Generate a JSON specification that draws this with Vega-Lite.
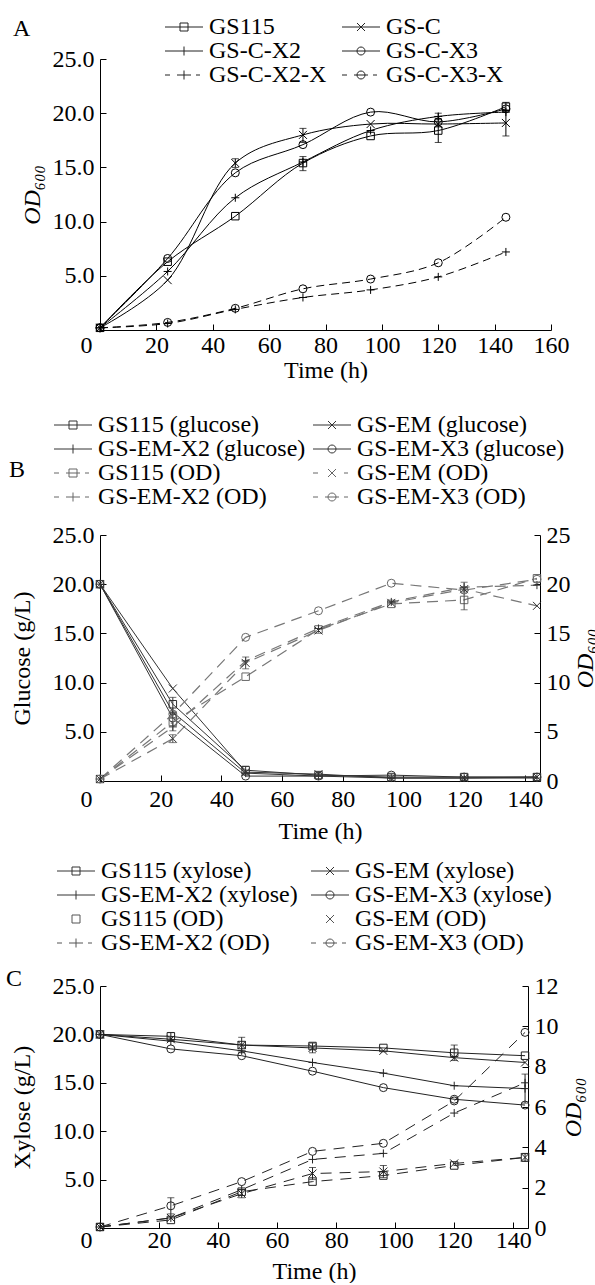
{
  "$schema": "https://vega.github.io/schema/vega-lite/v6.json",
  "padding": {"left": 6, "top": 15, "right": 0, "bottom": 0},
  "spacing": 14,
  "resolve": {"scale": {"shape": "independent", "stroke": "independent"}},
  "config": {
    "font": "Liberation Serif",
    "view": {"stroke": null},
    "axis": {
      "labelFont": "Liberation Serif", "titleFont": "Liberation Serif",
      "labelFontSize": 24, "titleFontSize": 24, "titleFontWeight": "normal",
      "labelColor": "black", "titleColor": "black", "domainColor": "black", "tickColor": "black",
      "grid": false, "tickSize": -6, "labelPadding": 12, "domainWidth": 1, "tickWidth": 1,
      "labelFlush": false, "labelOverlap": false
    },
    "legend": {"labelFont": "Liberation Serif", "labelFontSize": 24, "labelColor": "black",
      "columns": 2, "direction": "horizontal", "symbolSize": 400, "symbolStrokeWidth": 1,
      "labelOffset": 22, "rowPadding": -0.5, "labelLimit": 400},
    "title": {"font": "Liberation Serif", "fontSize": 24, "fontWeight": "normal", "anchor": "start", "frame": "group", "color": "black", "offset": 0}
  },
  "datasets": {
    "A": [
      {"s":"GS115","t":0,"v":0.2},{"s":"GS115","t":24,"v":6.3},{"s":"GS115","t":48,"v":10.5},
      {"s":"GS115","t":72,"v":15.4,"lo":14.7,"hi":16.0},{"s":"GS115","t":96,"v":17.9},
      {"s":"GS115","t":120,"v":18.4,"lo":17.3,"hi":19.5},{"s":"GS115","t":144,"v":20.6,"lo":20.2,"hi":21.0},
      {"s":"GS-C","t":0,"v":0.2},{"s":"GS-C","t":24,"v":4.6},{"s":"GS-C","t":48,"v":15.4,"lo":15.0,"hi":15.8},
      {"s":"GS-C","t":72,"v":18.0,"lo":17.3,"hi":18.6},{"s":"GS-C","t":96,"v":19.0},{"s":"GS-C","t":120,"v":19.0},
      {"s":"GS-C","t":144,"v":19.1,"lo":17.9,"hi":20.3},
      {"s":"GS-C-X2","t":0,"v":0.2},{"s":"GS-C-X2","t":24,"v":5.4},{"s":"GS-C-X2","t":48,"v":12.2},
      {"s":"GS-C-X2","t":72,"v":15.5},{"s":"GS-C-X2","t":96,"v":18.4},{"s":"GS-C-X2","t":120,"v":19.7,"lo":19.4,"hi":20.0},
      {"s":"GS-C-X2","t":144,"v":20.1},
      {"s":"GS-C-X3","t":0,"v":0.2},{"s":"GS-C-X3","t":24,"v":6.6},{"s":"GS-C-X3","t":48,"v":14.5},
      {"s":"GS-C-X3","t":72,"v":17.1},{"s":"GS-C-X3","t":96,"v":20.1},{"s":"GS-C-X3","t":120,"v":19.2},
      {"s":"GS-C-X3","t":144,"v":20.4},
      {"s":"GS-C-X2-X","t":0,"v":0.2},{"s":"GS-C-X2-X","t":24,"v":0.6},{"s":"GS-C-X2-X","t":48,"v":1.9},
      {"s":"GS-C-X2-X","t":72,"v":3.0},{"s":"GS-C-X2-X","t":96,"v":3.7},{"s":"GS-C-X2-X","t":120,"v":4.9},
      {"s":"GS-C-X2-X","t":144,"v":7.2},
      {"s":"GS-C-X3-X","t":0,"v":0.2},{"s":"GS-C-X3-X","t":24,"v":0.7},{"s":"GS-C-X3-X","t":48,"v":2.0},
      {"s":"GS-C-X3-X","t":72,"v":3.8},{"s":"GS-C-X3-X","t":96,"v":4.7},{"s":"GS-C-X3-X","t":120,"v":6.2},
      {"s":"GS-C-X3-X","t":144,"v":10.4}
    ],
    "B": [
      {"s":"GS115 (glucose)","t":0,"v":20.0},{"s":"GS115 (glucose)","t":24,"v":7.8,"lo":6.9,"hi":8.5},
      {"s":"GS115 (glucose)","t":48,"v":1.1,"lo":0.6,"hi":1.5},{"s":"GS115 (glucose)","t":72,"v":0.6},
      {"s":"GS115 (glucose)","t":96,"v":0.4},{"s":"GS115 (glucose)","t":120,"v":0.4},{"s":"GS115 (glucose)","t":144,"v":0.4},
      {"s":"GS-EM (glucose)","t":0,"v":20.0},{"s":"GS-EM (glucose)","t":24,"v":9.4},{"s":"GS-EM (glucose)","t":48,"v":0.9},
      {"s":"GS-EM (glucose)","t":72,"v":0.7},{"s":"GS-EM (glucose)","t":96,"v":0.3},{"s":"GS-EM (glucose)","t":120,"v":0.3},
      {"s":"GS-EM (glucose)","t":144,"v":0.4},
      {"s":"GS-EM-X2 (glucose)","t":0,"v":20.0},{"s":"GS-EM-X2 (glucose)","t":24,"v":7.0},{"s":"GS-EM-X2 (glucose)","t":48,"v":0.8},
      {"s":"GS-EM-X2 (glucose)","t":72,"v":0.5},{"s":"GS-EM-X2 (glucose)","t":96,"v":0.3},{"s":"GS-EM-X2 (glucose)","t":120,"v":0.3},
      {"s":"GS-EM-X2 (glucose)","t":144,"v":0.3},
      {"s":"GS-EM-X3 (glucose)","t":0,"v":20.0},{"s":"GS-EM-X3 (glucose)","t":24,"v":6.4},{"s":"GS-EM-X3 (glucose)","t":48,"v":0.5},
      {"s":"GS-EM-X3 (glucose)","t":72,"v":0.5},{"s":"GS-EM-X3 (glucose)","t":96,"v":0.6},{"s":"GS-EM-X3 (glucose)","t":120,"v":0.4},
      {"s":"GS-EM-X3 (glucose)","t":144,"v":0.4},
      {"s":"GS115 (OD)","t":0,"v":0.2},{"s":"GS115 (OD)","t":24,"v":6.0,"lo":5.1,"hi":6.9},{"s":"GS115 (OD)","t":48,"v":10.6},
      {"s":"GS115 (OD)","t":72,"v":15.4},{"s":"GS115 (OD)","t":96,"v":18.0},{"s":"GS115 (OD)","t":120,"v":18.4,"lo":17.4,"hi":19.6},
      {"s":"GS115 (OD)","t":144,"v":20.6},
      {"s":"GS-EM (OD)","t":0,"v":0.2},{"s":"GS-EM (OD)","t":24,"v":4.3,"lo":3.9,"hi":4.7},{"s":"GS-EM (OD)","t":48,"v":12.0,"lo":11.4,"hi":12.6},
      {"s":"GS-EM (OD)","t":72,"v":15.3},{"s":"GS-EM (OD)","t":96,"v":18.1},{"s":"GS-EM (OD)","t":120,"v":19.5},
      {"s":"GS-EM (OD)","t":144,"v":17.8},
      {"s":"GS-EM-X2 (OD)","t":0,"v":0.2},{"s":"GS-EM-X2 (OD)","t":24,"v":5.5},{"s":"GS-EM-X2 (OD)","t":48,"v":12.2},
      {"s":"GS-EM-X2 (OD)","t":72,"v":15.5},{"s":"GS-EM-X2 (OD)","t":96,"v":18.2},{"s":"GS-EM-X2 (OD)","t":120,"v":19.7,"lo":19.2,"hi":20.2},
      {"s":"GS-EM-X2 (OD)","t":144,"v":19.9},
      {"s":"GS-EM-X3 (OD)","t":0,"v":0.2},{"s":"GS-EM-X3 (OD)","t":24,"v":6.8},{"s":"GS-EM-X3 (OD)","t":48,"v":14.6},
      {"s":"GS-EM-X3 (OD)","t":72,"v":17.3},{"s":"GS-EM-X3 (OD)","t":96,"v":20.1},{"s":"GS-EM-X3 (OD)","t":120,"v":19.4},
      {"s":"GS-EM-X3 (OD)","t":144,"v":20.5}
    ],
    "C": [
      {"s":"GS115 (xylose)","t":0,"v":20.0},{"s":"GS115 (xylose)","t":24,"v":19.8,"lo":19.4,"hi":20.2},{"s":"GS115 (xylose)","t":48,"v":18.9},
      {"s":"GS115 (xylose)","t":72,"v":18.8},{"s":"GS115 (xylose)","t":96,"v":18.6},{"s":"GS115 (xylose)","t":120,"v":18.1,"lo":17.3,"hi":18.9},
      {"s":"GS115 (xylose)","t":144,"v":17.8},
      {"s":"GS-EM (xylose)","t":0,"v":20.0},{"s":"GS-EM (xylose)","t":24,"v":19.5},{"s":"GS-EM (xylose)","t":48,"v":18.9,"lo":18.1,"hi":19.7},
      {"s":"GS-EM (xylose)","t":72,"v":18.6,"lo":18.1,"hi":19.1},{"s":"GS-EM (xylose)","t":96,"v":18.3},{"s":"GS-EM (xylose)","t":120,"v":17.6},
      {"s":"GS-EM (xylose)","t":144,"v":17.1},
      {"s":"GS-EM-X2 (xylose)","t":0,"v":20.0},{"s":"GS-EM-X2 (xylose)","t":24,"v":19.3},{"s":"GS-EM-X2 (xylose)","t":48,"v":18.3},
      {"s":"GS-EM-X2 (xylose)","t":72,"v":17.1},{"s":"GS-EM-X2 (xylose)","t":96,"v":16.0},{"s":"GS-EM-X2 (xylose)","t":120,"v":14.7},
      {"s":"GS-EM-X2 (xylose)","t":144,"v":14.4,"lo":12.9,"hi":15.9},
      {"s":"GS-EM-X3 (xylose)","t":0,"v":20.0},{"s":"GS-EM-X3 (xylose)","t":24,"v":18.5},{"s":"GS-EM-X3 (xylose)","t":48,"v":17.8},
      {"s":"GS-EM-X3 (xylose)","t":72,"v":16.2},{"s":"GS-EM-X3 (xylose)","t":96,"v":14.5},{"s":"GS-EM-X3 (xylose)","t":120,"v":13.3},
      {"s":"GS-EM-X3 (xylose)","t":144,"v":12.7},
      {"s":"GS115 (OD)","t":0,"v":0.05},{"s":"GS115 (OD)","t":24,"v":0.4},{"s":"GS115 (OD)","t":48,"v":1.8},
      {"s":"GS115 (OD)","t":72,"v":2.3},{"s":"GS115 (OD)","t":96,"v":2.6},{"s":"GS115 (OD)","t":120,"v":3.1},
      {"s":"GS115 (OD)","t":144,"v":3.5,"lo":3.3,"hi":3.7},
      {"s":"GS-EM (OD)","t":0,"v":0.05},{"s":"GS-EM (OD)","t":24,"v":0.5},{"s":"GS-EM (OD)","t":48,"v":1.7,"lo":1.5,"hi":1.9},
      {"s":"GS-EM (OD)","t":72,"v":2.7,"lo":2.4,"hi":3.0},{"s":"GS-EM (OD)","t":96,"v":2.8,"lo":2.5,"hi":3.1},{"s":"GS-EM (OD)","t":120,"v":3.2},
      {"s":"GS-EM (OD)","t":144,"v":3.5},
      {"s":"GS-EM-X2 (OD)","t":0,"v":0.05},{"s":"GS-EM-X2 (OD)","t":24,"v":0.5},{"s":"GS-EM-X2 (OD)","t":48,"v":1.9},
      {"s":"GS-EM-X2 (OD)","t":72,"v":3.4},{"s":"GS-EM-X2 (OD)","t":96,"v":3.7},{"s":"GS-EM-X2 (OD)","t":120,"v":5.7},
      {"s":"GS-EM-X2 (OD)","t":144,"v":7.2},
      {"s":"GS-EM-X3 (OD)","t":0,"v":0.05},{"s":"GS-EM-X3 (OD)","t":24,"v":1.1,"lo":0.7,"hi":1.5},{"s":"GS-EM-X3 (OD)","t":48,"v":2.3},
      {"s":"GS-EM-X3 (OD)","t":72,"v":3.8},{"s":"GS-EM-X3 (OD)","t":96,"v":4.2},{"s":"GS-EM-X3 (OD)","t":120,"v":6.3},
      {"s":"GS-EM-X3 (OD)","t":144,"v":9.7}
    ]
  },
  "vconcat": [
    {
      "width": 451, "height": 271,
      "title": {"text": "A", "dx": -87, "dy": 30},
      "data": {"name": "A"},
      "encoding": {
        "x": {"field": "t", "type": "quantitative", "scale": {"domain": [0,160], "nice": false},
          "axis": {"values": [0,20,40,60,80,100,120,140,160], "title": "Time (h)", "titlePadding": 1, "labelPadding": 9,
            "labelAlign": {"condition": {"test": "datum.value === 0", "value": "right"}, "value": "center"},
            "labelOffset": {"condition": {"test": "datum.value === 0", "value": -8}, "value": 0}}},
        "y": {"field": "v", "type": "quantitative", "scale": {"domain": [0,25], "nice": false},
          "axis": {"values": [0,5,10,15,20,25], "labelExpr": "datum.value === 0 ? '' : format(datum.value, '.1f')",
            "title": "OD₆₀₀", "titleFontStyle": "italic", "titlePadding": 8}}
      },
      "layer": [
        {
          "transform": [{"filter": {"field": "s", "oneOf": ["GS115","GS-C","GS-C-X2","GS-C-X3"]}}],
          "mark": {"type": "line", "interpolate": "catmull-rom", "color": "black", "strokeWidth": 1},
          "encoding": {"detail": {"field": "s"}}
        },
        {
          "transform": [{"filter": {"field": "s", "oneOf": ["GS-C-X2-X","GS-C-X3-X"]}}],
          "mark": {"type": "line", "interpolate": "catmull-rom", "color": "black", "strokeWidth": 1, "strokeDash": [8,5]},
          "encoding": {"detail": {"field": "s"}}
        },
        {
          "transform": [{"filter": {"field": "s", "oneOf": ["GS115"]}}],
          "mark": {"type": "point", "shape": "square", "size": 56, "filled": false, "opacity": 1, "color": "black", "strokeWidth": 1}
        },
        {
          "transform": [{"filter": {"field": "s", "oneOf": ["GS-C"]}}],
          "mark": {"type": "point", "shape": "M-1,-1L1,1M-1,1L1,-1", "size": 64, "filled": false, "opacity": 1, "color": "black", "strokeWidth": 1}
        },
        {
          "transform": [{"filter": {"field": "s", "oneOf": ["GS-C-X2","GS-C-X2-X"]}}],
          "mark": {"type": "point", "shape": "M-1,0L1,0M0,-1L0,1", "size": 64, "filled": false, "opacity": 1, "color": "black", "strokeWidth": 1}
        },
        {
          "transform": [{"filter": {"field": "s", "oneOf": ["GS-C-X3","GS-C-X3-X"]}}],
          "mark": {"type": "point", "shape": "circle", "size": 64, "filled": false, "opacity": 1, "color": "black", "strokeWidth": 1}
        },
        {
          "transform": [{"filter": "isValid(datum.lo)"}],
          "mark": {"type": "rule", "color": "black", "strokeWidth": 1},
          "encoding": {
            "y": {"field": "lo", "type": "quantitative", "scale": {"domain": [0,25], "nice": false},
              "axis": {"values": [0,5,10,15,20,25], "labelExpr": "datum.value === 0 ? '' : format(datum.value, '.1f')",
                "title": "OD₆₀₀", "titleFontStyle": "italic", "titlePadding": 8}},
            "y2": {"field": "hi"}
          }
        },
        {
          "transform": [{"filter": "isValid(datum.lo)"}],
          "mark": {"type": "tick", "orient": "horizontal", "size": 7, "thickness": 1, "color": "black"},
          "encoding": {
            "y": {"field": "lo", "type": "quantitative", "scale": {"domain": [0,25], "nice": false},
              "axis": {"values": [0,5,10,15,20,25], "labelExpr": "datum.value === 0 ? '' : format(datum.value, '.1f')",
                "title": "OD₆₀₀", "titleFontStyle": "italic", "titlePadding": 8}}
          }
        },
        {
          "transform": [{"filter": "isValid(datum.hi)"}],
          "mark": {"type": "tick", "orient": "horizontal", "size": 7, "thickness": 1, "color": "black"},
          "encoding": {
            "y": {"field": "hi", "type": "quantitative", "scale": {"domain": [0,25], "nice": false},
              "axis": {"values": [0,5,10,15,20,25], "labelExpr": "datum.value === 0 ? '' : format(datum.value, '.1f')",
                "title": "OD₆₀₀", "titleFontStyle": "italic", "titlePadding": 8}}
          }
        },
        {
          "transform": [{"filter": "false"}],
          "mark": {"type": "point", "filled": false, "opacity": 1, "strokeWidth": 1},
          "encoding": {
            "shape": {"field": "s", "type": "nominal",
              "scale": {"domain": ["GS115","GS-C","GS-C-X2","GS-C-X3","GS-C-X2-X","GS-C-X3-X"],
                "range": [
                  "M-1,0H2.8M0.5,-0.4H1.3V0.4H0.5Z",
                  "M-1,0H2.8M0.5,-0.4L1.3,0.4M0.5,0.4L1.3,-0.4",
                  "M-1,0H2.8M0.9,-0.45V0.45",
                  "M-1,0H2.8M1.3,0A0.4,0.4,0,1,1,0.5,0A0.4,0.4,0,1,1,1.3,0",
                  "M-1,0H-0.5M0.2,0H1.6M0.9,-0.45V0.45M2.1,0H2.5",
                  "M-1,0H-0.5M0.2,0H1.6M1.3,0A0.4,0.4,0,1,1,0.5,0A0.4,0.4,0,1,1,1.3,0M2.1,0H2.5"
                ]},
              "legend": {"orient": "none", "legendX": 63, "legendY": -44, "title": null, "columnPadding": 13, "padding": 0}},
            "stroke": {"field": "s", "type": "nominal",
              "scale": {"domain": ["GS115","GS-C","GS-C-X2","GS-C-X3","GS-C-X2-X","GS-C-X3-X"],
                "range": ["#222","#222","#222","#222","#222","#222"]},
              "legend": {"orient": "none", "legendX": 63, "legendY": -44, "title": null, "columnPadding": 13, "padding": 0}}
          }
        }
      ]
    },
    {
      "width": 440, "height": 246,
      "title": {"text": "B", "dx": -91, "dy": 90},
      "data": {"name": "B"},
      "resolve": {"scale": {"y": "independent"}},
      "encoding": {
        "x": {"field": "t", "type": "quantitative", "scale": {"domain": [0,145], "nice": false},
          "axis": {"values": [0,20,40,60,80,100,120,140], "title": "Time (h)", "titlePadding": 8,
            "labelAlign": {"condition": {"test": "datum.value === 0", "value": "right"}, "value": "center"},
            "labelOffset": {"condition": {"test": "datum.value === 0", "value": -8}, "value": 0}}}
      },
      "layer": [
        {
          "encoding": {
            "y": {"field": "v", "type": "quantitative", "scale": {"domain": [0,25], "nice": false},
              "axis": {"values": [0,5,10,15,20,25], "labelExpr": "datum.value === 0 ? '' : format(datum.value, '.1f')",
                "title": "Glucose (g/L)", "titlePadding": 18}}
          },
          "layer": [
            {
              "transform": [{"filter": {"field": "s", "oneOf": ["GS115 (glucose)","GS-EM (glucose)","GS-EM-X2 (glucose)","GS-EM-X3 (glucose)"]}}],
              "mark": {"type": "line", "color": "#333", "strokeWidth": 1},
              "encoding": {"detail": {"field": "s"}}
            },
            {
              "transform": [{"filter": {"field": "s", "oneOf": ["GS115 (glucose)"]}}],
              "mark": {"type": "point", "shape": "square", "size": 56, "filled": false, "opacity": 1, "color": "#333", "strokeWidth": 1}
            },
            {
              "transform": [{"filter": {"field": "s", "oneOf": ["GS-EM (glucose)"]}}],
              "mark": {"type": "point", "shape": "M-1,-1L1,1M-1,1L1,-1", "size": 64, "filled": false, "opacity": 1, "color": "#333", "strokeWidth": 1}
            },
            {
              "transform": [{"filter": {"field": "s", "oneOf": ["GS-EM-X2 (glucose)"]}}],
              "mark": {"type": "point", "shape": "M-1,0L1,0M0,-1L0,1", "size": 64, "filled": false, "opacity": 1, "color": "#333", "strokeWidth": 1}
            },
            {
              "transform": [{"filter": {"field": "s", "oneOf": ["GS-EM-X3 (glucose)"]}}],
              "mark": {"type": "point", "shape": "circle", "size": 64, "filled": false, "opacity": 1, "color": "#333", "strokeWidth": 1}
            },
            {
              "transform": [{"filter": {"field": "s", "oneOf": ["GS115 (glucose)","GS-EM (glucose)","GS-EM-X2 (glucose)","GS-EM-X3 (glucose)"]}}, {"filter": "isValid(datum.lo)"}],
              "mark": {"type": "rule", "color": "#333", "strokeWidth": 1},
              "encoding": {
                "y": {"field": "lo", "type": "quantitative", "scale": {"domain": [0,25], "nice": false},
                  "axis": {"values": [0,5,10,15,20,25], "labelExpr": "datum.value === 0 ? '' : format(datum.value, '.1f')",
                    "title": "Glucose (g/L)", "titlePadding": 18}},
                "y2": {"field": "hi"}
              }
            },
            {
              "transform": [{"filter": {"field": "s", "oneOf": ["GS115 (glucose)","GS-EM (glucose)","GS-EM-X2 (glucose)","GS-EM-X3 (glucose)"]}}, {"filter": "isValid(datum.lo)"}],
              "mark": {"type": "tick", "orient": "horizontal", "size": 7, "thickness": 1, "color": "#333"},
              "encoding": {
                "y": {"field": "lo", "type": "quantitative", "scale": {"domain": [0,25], "nice": false},
                  "axis": {"values": [0,5,10,15,20,25], "labelExpr": "datum.value === 0 ? '' : format(datum.value, '.1f')",
                    "title": "Glucose (g/L)", "titlePadding": 18}}
              }
            },
            {
              "transform": [{"filter": {"field": "s", "oneOf": ["GS115 (glucose)","GS-EM (glucose)","GS-EM-X2 (glucose)","GS-EM-X3 (glucose)"]}}, {"filter": "isValid(datum.hi)"}],
              "mark": {"type": "tick", "orient": "horizontal", "size": 7, "thickness": 1, "color": "#333"},
              "encoding": {
                "y": {"field": "hi", "type": "quantitative", "scale": {"domain": [0,25], "nice": false},
                  "axis": {"values": [0,5,10,15,20,25], "labelExpr": "datum.value === 0 ? '' : format(datum.value, '.1f')",
                    "title": "Glucose (g/L)", "titlePadding": 18}}
              }
            }
          ]
        },
        {
          "encoding": {
            "y": {"field": "v", "type": "quantitative", "scale": {"domain": [0,25], "nice": false},
              "axis": {"orient": "right", "values": [0,5,10,15,20,25], "format": "d",
                "title": "OD₆₀₀", "titleFontStyle": "italic", "titleAngle": 270, "titleBaseline": "top", "titlePadding": 3}}
          },
          "layer": [
            {
              "transform": [{"filter": {"field": "s", "oneOf": ["GS115 (OD)","GS-EM (OD)","GS-EM-X2 (OD)","GS-EM-X3 (OD)"]}}],
              "mark": {"type": "line", "color": "#777", "strokeWidth": 1.2, "strokeDash": [11,7]},
              "encoding": {"detail": {"field": "s"}}
            },
            {
              "transform": [{"filter": {"field": "s", "oneOf": ["GS115 (OD)"]}}],
              "mark": {"type": "point", "shape": "square", "size": 56, "filled": false, "opacity": 1, "color": "#666", "strokeWidth": 1}
            },
            {
              "transform": [{"filter": {"field": "s", "oneOf": ["GS-EM (OD)"]}}],
              "mark": {"type": "point", "shape": "M-1,-1L1,1M-1,1L1,-1", "size": 64, "filled": false, "opacity": 1, "color": "#333", "strokeWidth": 1}
            },
            {
              "transform": [{"filter": {"field": "s", "oneOf": ["GS-EM-X2 (OD)"]}}],
              "mark": {"type": "point", "shape": "M-1,0L1,0M0,-1L0,1", "size": 64, "filled": false, "opacity": 1, "color": "#333", "strokeWidth": 1}
            },
            {
              "transform": [{"filter": {"field": "s", "oneOf": ["GS-EM-X3 (OD)"]}}],
              "mark": {"type": "point", "shape": "circle", "size": 64, "filled": false, "opacity": 1, "color": "#666", "strokeWidth": 1}
            },
            {
              "transform": [{"filter": {"field": "s", "oneOf": ["GS115 (OD)","GS-EM (OD)","GS-EM-X2 (OD)","GS-EM-X3 (OD)"]}}, {"filter": "isValid(datum.lo)"}],
              "mark": {"type": "rule", "color": "#444", "strokeWidth": 1},
              "encoding": {
                "y": {"field": "lo", "type": "quantitative", "scale": {"domain": [0,25], "nice": false},
                  "axis": {"orient": "right", "values": [0,5,10,15,20,25], "format": "d",
                    "title": "OD₆₀₀", "titleFontStyle": "italic", "titleAngle": 270, "titleBaseline": "top", "titlePadding": 3}},
                "y2": {"field": "hi"}
              }
            },
            {
              "transform": [{"filter": {"field": "s", "oneOf": ["GS115 (OD)","GS-EM (OD)","GS-EM-X2 (OD)","GS-EM-X3 (OD)"]}}, {"filter": "isValid(datum.lo)"}],
              "mark": {"type": "tick", "orient": "horizontal", "size": 7, "thickness": 1, "color": "#444"},
              "encoding": {
                "y": {"field": "lo", "type": "quantitative", "scale": {"domain": [0,25], "nice": false},
                  "axis": {"orient": "right", "values": [0,5,10,15,20,25], "format": "d",
                    "title": "OD₆₀₀", "titleFontStyle": "italic", "titleAngle": 270, "titleBaseline": "top", "titlePadding": 3}}
              }
            },
            {
              "transform": [{"filter": {"field": "s", "oneOf": ["GS115 (OD)","GS-EM (OD)","GS-EM-X2 (OD)","GS-EM-X3 (OD)"]}}, {"filter": "isValid(datum.hi)"}],
              "mark": {"type": "tick", "orient": "horizontal", "size": 7, "thickness": 1, "color": "#444"},
              "encoding": {
                "y": {"field": "hi", "type": "quantitative", "scale": {"domain": [0,25], "nice": false},
                  "axis": {"orient": "right", "values": [0,5,10,15,20,25], "format": "d",
                    "title": "OD₆₀₀", "titleFontStyle": "italic", "titleAngle": 270, "titleBaseline": "top", "titlePadding": 3}}
              }
            }
          ]
        },
        {
          "transform": [{"filter": "false"}],
          "mark": {"type": "point", "filled": false, "opacity": 1, "strokeWidth": 1},
          "encoding": {
            "shape": {"field": "s", "type": "nominal",
              "scale": {"domain": ["GS115 (glucose)","GS-EM (glucose)","GS-EM-X2 (glucose)","GS-EM-X3 (glucose)","GS115 (OD)","GS-EM (OD)","GS-EM-X2 (OD)","GS-EM-X3 (OD)"],
                "range": [
                  "M-1,0H2.8M0.5,-0.4H1.3V0.4H0.5Z",
                  "M-1,0H2.8M0.5,-0.4L1.3,0.4M0.5,0.4L1.3,-0.4",
                  "M-1,0H2.8M0.9,-0.45V0.45",
                  "M-1,0H2.8M1.3,0A0.4,0.4,0,1,1,0.5,0A0.4,0.4,0,1,1,1.3,0",
                  "M-1,0H-0.5M0.2,0H1.6M0.5,-0.4H1.3V0.4H0.5ZM2.1,0H2.5",
                  "M-1,0H-0.5M0.5,-0.4L1.3,0.4M0.5,0.4L1.3,-0.4M2.1,0H2.5",
                  "M-1,0H-0.5M0.2,0H1.6M0.9,-0.45V0.45M2.1,0H2.5",
                  "M-1,0H-0.5M0.2,0H1.6M1.3,0A0.4,0.4,0,1,1,0.5,0A0.4,0.4,0,1,1,1.3,0M2.1,0H2.5"
                ]},
              "legend": {"orient": "none", "legendX": -65, "legendY": -139, "title": null, "columnPadding": 5, "padding": 17}},
            "stroke": {"field": "s", "type": "nominal",
              "scale": {"domain": ["GS115 (glucose)","GS-EM (glucose)","GS-EM-X2 (glucose)","GS-EM-X3 (glucose)","GS115 (OD)","GS-EM (OD)","GS-EM-X2 (OD)","GS-EM-X3 (OD)"],
                "range": ["#333","#333","#333","#333","#666","#666","#666","#666"]},
              "legend": {"orient": "none", "legendX": -65, "legendY": -139, "title": null, "columnPadding": 5, "padding": 17}}
          }
        }
      ]
    },
    {
      "width": 428, "height": 242,
      "title": {"text": "C", "dx": -94, "dy": 138},
      "data": {"name": "C"},
      "resolve": {"scale": {"y": "independent"}},
      "encoding": {
        "x": {"field": "t", "type": "quantitative", "scale": {"domain": [0,145], "nice": false},
          "axis": {"values": [0,20,40,60,80,100,120,140], "title": "Time (h)", "titlePadding": 7, "labelPadding": 6,
            "labelAlign": {"condition": {"test": "datum.value === 0", "value": "right"}, "value": "center"},
            "labelOffset": {"condition": {"test": "datum.value === 0", "value": -8}, "value": 0}}}
      },
      "layer": [
        {
          "encoding": {
            "y": {"field": "v", "type": "quantitative", "scale": {"domain": [0,25], "nice": false},
              "axis": {"values": [0,5,10,15,20,25], "labelExpr": "datum.value === 0 ? '' : format(datum.value, '.1f')",
                "title": "Xylose (g/L)", "titlePadding": 18}}
          },
          "layer": [
            {
              "transform": [{"filter": {"field": "s", "oneOf": ["GS115 (xylose)","GS-EM (xylose)","GS-EM-X2 (xylose)","GS-EM-X3 (xylose)"]}}],
              "mark": {"type": "line", "color": "#222", "strokeWidth": 1},
              "encoding": {"detail": {"field": "s"}}
            },
            {
              "transform": [{"filter": {"field": "s", "oneOf": ["GS115 (xylose)"]}}],
              "mark": {"type": "point", "shape": "square", "size": 56, "filled": false, "opacity": 1, "color": "#222", "strokeWidth": 1}
            },
            {
              "transform": [{"filter": {"field": "s", "oneOf": ["GS-EM (xylose)"]}}],
              "mark": {"type": "point", "shape": "M-1,-1L1,1M-1,1L1,-1", "size": 64, "filled": false, "opacity": 1, "color": "#222", "strokeWidth": 1}
            },
            {
              "transform": [{"filter": {"field": "s", "oneOf": ["GS-EM-X2 (xylose)"]}}],
              "mark": {"type": "point", "shape": "M-1,0L1,0M0,-1L0,1", "size": 64, "filled": false, "opacity": 1, "color": "#222", "strokeWidth": 1}
            },
            {
              "transform": [{"filter": {"field": "s", "oneOf": ["GS-EM-X3 (xylose)"]}}],
              "mark": {"type": "point", "shape": "circle", "size": 64, "filled": false, "opacity": 1, "color": "#222", "strokeWidth": 1}
            },
            {
              "transform": [{"filter": {"field": "s", "oneOf": ["GS115 (xylose)","GS-EM (xylose)","GS-EM-X2 (xylose)","GS-EM-X3 (xylose)"]}}, {"filter": "isValid(datum.lo)"}],
              "mark": {"type": "rule", "color": "#222", "strokeWidth": 1},
              "encoding": {
                "y": {"field": "lo", "type": "quantitative", "scale": {"domain": [0,25], "nice": false},
                  "axis": {"values": [0,5,10,15,20,25], "labelExpr": "datum.value === 0 ? '' : format(datum.value, '.1f')",
                    "title": "Xylose (g/L)", "titlePadding": 18}},
                "y2": {"field": "hi"}
              }
            },
            {
              "transform": [{"filter": {"field": "s", "oneOf": ["GS115 (xylose)","GS-EM (xylose)","GS-EM-X2 (xylose)","GS-EM-X3 (xylose)"]}}, {"filter": "isValid(datum.lo)"}],
              "mark": {"type": "tick", "orient": "horizontal", "size": 7, "thickness": 1, "color": "#222"},
              "encoding": {
                "y": {"field": "lo", "type": "quantitative", "scale": {"domain": [0,25], "nice": false},
                  "axis": {"values": [0,5,10,15,20,25], "labelExpr": "datum.value === 0 ? '' : format(datum.value, '.1f')",
                    "title": "Xylose (g/L)", "titlePadding": 18}}
              }
            },
            {
              "transform": [{"filter": {"field": "s", "oneOf": ["GS115 (xylose)","GS-EM (xylose)","GS-EM-X2 (xylose)","GS-EM-X3 (xylose)"]}}, {"filter": "isValid(datum.hi)"}],
              "mark": {"type": "tick", "orient": "horizontal", "size": 7, "thickness": 1, "color": "#222"},
              "encoding": {
                "y": {"field": "hi", "type": "quantitative", "scale": {"domain": [0,25], "nice": false},
                  "axis": {"values": [0,5,10,15,20,25], "labelExpr": "datum.value === 0 ? '' : format(datum.value, '.1f')",
                    "title": "Xylose (g/L)", "titlePadding": 18}}
              }
            }
          ]
        },
        {
          "encoding": {
            "y": {"field": "v", "type": "quantitative", "scale": {"domain": [0,12], "nice": false},
              "axis": {"orient": "right", "values": [0,2,4,6,8,10,12], "format": "d",
                "title": "OD₆₀₀", "titleFontStyle": "italic", "titleAngle": 270, "titleBaseline": "top", "titlePadding": 3}}
          },
          "layer": [
            {
              "transform": [{"filter": {"field": "s", "oneOf": ["GS115 (OD)","GS-EM (OD)","GS-EM-X2 (OD)","GS-EM-X3 (OD)"]}}],
              "mark": {"type": "line", "color": "#222", "strokeWidth": 1, "strokeDash": [11,8]},
              "encoding": {"detail": {"field": "s"}}
            },
            {
              "transform": [{"filter": {"field": "s", "oneOf": ["GS115 (OD)"]}}],
              "mark": {"type": "point", "shape": "square", "size": 56, "filled": false, "opacity": 1, "color": "#222", "strokeWidth": 1}
            },
            {
              "transform": [{"filter": {"field": "s", "oneOf": ["GS-EM (OD)"]}}],
              "mark": {"type": "point", "shape": "M-1,-1L1,1M-1,1L1,-1", "size": 64, "filled": false, "opacity": 1, "color": "#222", "strokeWidth": 1}
            },
            {
              "transform": [{"filter": {"field": "s", "oneOf": ["GS-EM-X2 (OD)"]}}],
              "mark": {"type": "point", "shape": "M-1,0L1,0M0,-1L0,1", "size": 64, "filled": false, "opacity": 1, "color": "#222", "strokeWidth": 1}
            },
            {
              "transform": [{"filter": {"field": "s", "oneOf": ["GS-EM-X3 (OD)"]}}],
              "mark": {"type": "point", "shape": "circle", "size": 64, "filled": false, "opacity": 1, "color": "#222", "strokeWidth": 1}
            },
            {
              "transform": [{"filter": {"field": "s", "oneOf": ["GS115 (OD)","GS-EM (OD)","GS-EM-X2 (OD)","GS-EM-X3 (OD)"]}}, {"filter": "isValid(datum.lo)"}],
              "mark": {"type": "rule", "color": "#222", "strokeWidth": 1},
              "encoding": {
                "y": {"field": "lo", "type": "quantitative", "scale": {"domain": [0,12], "nice": false},
                  "axis": {"orient": "right", "values": [0,2,4,6,8,10,12], "format": "d",
                    "title": "OD₆₀₀", "titleFontStyle": "italic", "titleAngle": 270, "titleBaseline": "top", "titlePadding": 3}},
                "y2": {"field": "hi"}
              }
            },
            {
              "transform": [{"filter": {"field": "s", "oneOf": ["GS115 (OD)","GS-EM (OD)","GS-EM-X2 (OD)","GS-EM-X3 (OD)"]}}, {"filter": "isValid(datum.lo)"}],
              "mark": {"type": "tick", "orient": "horizontal", "size": 7, "thickness": 1, "color": "#222"},
              "encoding": {
                "y": {"field": "lo", "type": "quantitative", "scale": {"domain": [0,12], "nice": false},
                  "axis": {"orient": "right", "values": [0,2,4,6,8,10,12], "format": "d",
                    "title": "OD₆₀₀", "titleFontStyle": "italic", "titleAngle": 270, "titleBaseline": "top", "titlePadding": 3}}
              }
            },
            {
              "transform": [{"filter": {"field": "s", "oneOf": ["GS115 (OD)","GS-EM (OD)","GS-EM-X2 (OD)","GS-EM-X3 (OD)"]}}, {"filter": "isValid(datum.hi)"}],
              "mark": {"type": "tick", "orient": "horizontal", "size": 7, "thickness": 1, "color": "#222"},
              "encoding": {
                "y": {"field": "hi", "type": "quantitative", "scale": {"domain": [0,12], "nice": false},
                  "axis": {"orient": "right", "values": [0,2,4,6,8,10,12], "format": "d",
                    "title": "OD₆₀₀", "titleFontStyle": "italic", "titleAngle": 270, "titleBaseline": "top", "titlePadding": 3}}
              }
            }
          ]
        },
        {
          "transform": [{"filter": "false"}],
          "mark": {"type": "point", "filled": false, "opacity": 1, "strokeWidth": 1},
          "encoding": {
            "shape": {"field": "s", "type": "nominal",
              "scale": {"domain": ["GS115 (xylose)","GS-EM (xylose)","GS-EM-X2 (xylose)","GS-EM-X3 (xylose)","GS115 (OD)","GS-EM (OD)","GS-EM-X2 (OD)","GS-EM-X3 (OD)"],
                "range": [
                  "M-1,0H2.8M0.5,-0.4H1.3V0.4H0.5Z",
                  "M-1,0H2.8M0.5,-0.4L1.3,0.4M0.5,0.4L1.3,-0.4",
                  "M-1,0H2.8M0.9,-0.45V0.45",
                  "M-1,0H2.8M1.3,0A0.4,0.4,0,1,1,0.5,0A0.4,0.4,0,1,1,1.3,0",
                  "M0.5,-0.4H1.3V0.4H0.5Z",
                  "M0.5,-0.4L1.3,0.4M0.5,0.4L1.3,-0.4",
                  "M-1,0H-0.5M0.2,0H1.6M0.9,-0.45V0.45M2.1,0H2.5",
                  "M-1,0H-0.5M0.2,0H1.6M1.3,0A0.4,0.4,0,1,1,0.5,0A0.4,0.4,0,1,1,1.3,0M2.1,0H2.5"
                ]},
              "legend": {"orient": "none", "legendX": -47, "legendY": -129, "title": null, "columnPadding": 11, "padding": 2}},
            "stroke": {"field": "s", "type": "nominal",
              "scale": {"domain": ["GS115 (xylose)","GS-EM (xylose)","GS-EM-X2 (xylose)","GS-EM-X3 (xylose)","GS115 (OD)","GS-EM (OD)","GS-EM-X2 (OD)","GS-EM-X3 (OD)"],
                "range": ["#333","#333","#333","#333","#555","#555","#555","#555"]},
              "legend": {"orient": "none", "legendX": -47, "legendY": -129, "title": null, "columnPadding": 11, "padding": 2}}
          }
        }
      ]
    }
  ]
}
